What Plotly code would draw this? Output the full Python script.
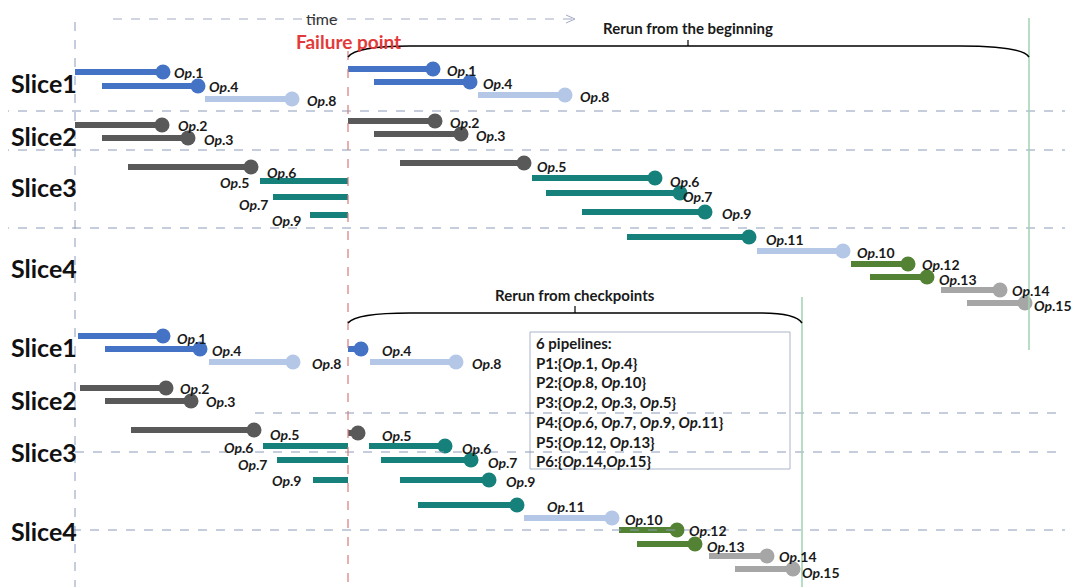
import plotly.graph_objects as go

W, H = 1080, 587
FONT = "Lato"

BLUE = "#4472C4"
LIGHT = "#B4C7E7"
DARK = "#595959"
TEAL = "#16807A"
GREEN = "#548235"
GREY = "#A6A6A6"

# ------------------------------------------------------------
#   datos: operaciones (inicio, fin, fila)
# ------------------------------------------------------------
# panel superior, antes del fallo
top_pre_op = ["Op.1", "Op.4", "Op.8", "Op.2", "Op.3", "Op.5", "Op.6", "Op.7", "Op.9"]
top_pre_start = [75, 102, 205, 75, 102, 128, 260, 273, 310]
top_pre_end = [163, 198, 292, 162, 188, 251, 348, 348, 348]
top_pre_y = [72, 86, 99, 125, 138, 167, 181, 197, 215]
top_pre_color = [BLUE, BLUE, LIGHT, DARK, DARK, DARK, TEAL, TEAL, TEAL]
top_pre_dot = [1, 1, 1, 1, 1, 1, 0, 0, 0]
top_pre_lbl_x = [172, 207, 305, 176, 202, 218, 265, 237, 270]
top_pre_lbl_y = [72, 86, 100, 125, 139, 182, 172, 204, 220]

# panel superior, re-ejecución desde el principio
top_re_op = ["Op.1", "Op.4", "Op.8", "Op.2", "Op.3", "Op.5", "Op.6", "Op.7", "Op.9",
             "Op.11", "Op.10", "Op.12", "Op.13", "Op.14", "Op.15"]
top_re_start = [348, 374, 478, 348, 374, 400, 532, 546, 582, 627, 757, 851, 870, 941, 967]
top_re_end = [433, 470, 565, 435, 461, 524, 655, 680, 705, 749, 843, 908, 927, 1000, 1025]
top_re_y = [69, 82, 95, 121, 134, 163, 178, 193, 212, 237, 251, 264, 277, 290, 303]
top_re_color = [BLUE, BLUE, LIGHT, DARK, DARK, DARK, TEAL, TEAL, TEAL, TEAL, LIGHT,
                GREEN, GREEN, GREY, GREY]
top_re_lbl_x = [445, 481, 578, 448, 474, 535, 668, 681, 720, 764, 855, 920, 937, 1010, 1032]
top_re_lbl_y = [70, 83, 96, 122, 135, 166, 181, 196, 213, 239, 252, 264, 279, 290, 305]

# panel inferior, antes del fallo
bot_pre_op = ["Op.1", "Op.4", "Op.8", "Op.2", "Op.3", "Op.5", "Op.6", "Op.7", "Op.9"]
bot_pre_start = [78, 105, 209, 80, 105, 131, 263, 277, 313]
bot_pre_end = [163, 200, 293, 166, 191, 254, 348, 348, 348]
bot_pre_y = [336, 349, 362, 388, 401, 430, 446, 460, 480]
bot_pre_color = [BLUE, BLUE, LIGHT, DARK, DARK, DARK, TEAL, TEAL, TEAL]
bot_pre_dot = [1, 1, 1, 1, 1, 1, 0, 0, 0]
bot_pre_lbl_x = [175, 210, 310, 178, 204, 268, 222, 236, 270]
bot_pre_lbl_y = [338, 350, 363, 388, 401, 434, 447, 464, 480]

# panel inferior, re-ejecución desde checkpoints
bot_re_op = ["Op.4", "Op.8", "Op.5", "Op.6", "Op.7", "Op.9", "Op.11", "Op.10",
             "Op.12", "Op.13", "Op.14", "Op.15"]
bot_re_start = [348, 370, 348, 369, 381, 400, 418, 524, 619, 637, 709, 735]
bot_re_end = [361, 456, 358, 445, 471, 489, 517, 612, 677, 695, 767, 793]
bot_re_y = [349, 362, 433, 446, 460, 480, 505, 518, 530, 544, 556, 569]
bot_re_color = [BLUE, LIGHT, DARK, TEAL, TEAL, TEAL, TEAL, LIGHT, GREEN, GREEN, GREY, GREY]
bot_re_lbl_x = [380, 470, 380, 460, 486, 504, 545, 623, 687, 705, 777, 800]
bot_re_lbl_y = [350, 363, 435, 448, 462, 481, 506, 519, 530, 546, 556, 572]

slice_names = ["Slice1", "Slice2", "Slice3", "Slice4", "Slice1", "Slice2", "Slice3", "Slice4"]
slice_y = [83, 136, 187, 268, 347, 400, 452, 531]

pipelines = [
    "6 pipelines:",
    "P1:{<i>Op</i>.1, <i>Op</i>.4}",
    "P2:{<i>Op</i>.8, <i>Op</i>.10}",
    "P3:{<i>Op</i>.2, <i>Op</i>.3, <i>Op</i>.5}",
    "P4:{<i>Op</i>.6, <i>Op</i>.7, <i>Op</i>.9, <i>Op</i>.11}",
    "P5:{<i>Op</i>.12, <i>Op</i>.13}",
    "P6:{<i>Op</i>.14,<i>Op</i>.15}",
]

fig = go.Figure()


def add_ops(ops, start, end, ys, colors, dots, lx, ly):
    for i, op in enumerate(ops):
        fig.add_trace(go.Scatter(
            x=[start[i], end[i]], y=[ys[i], ys[i]], mode="lines",
            line=dict(color=colors[i], width=6), hoverinfo="skip", showlegend=False))
        if dots[i]:
            fig.add_trace(go.Scatter(
                x=[end[i]], y=[ys[i]], mode="markers",
                marker=dict(color=colors[i], size=15), hoverinfo="skip", showlegend=False))
        num = op.split(".")[1]
        fig.add_annotation(x=lx[i], y=ly[i], text=f"<b><i>Op</i>.{num}</b>", showarrow=False,
                           xanchor="left", yanchor="middle",
                           font=dict(family=FONT, size=14, color="#1a1a1a"))


# ---- líneas guía ----
shapes = []
guide = "#8C9AB8"
for y, x0 in [(111, 0), (150, 0), (228, 0), (413, 255), (452, 75), (530, 72)]:
    shapes.append(dict(type="line", x0=x0, x1=1065, y0=y, y1=y,
                       line=dict(color=guide, width=1, dash="dash")))
shapes.append(dict(type="line", x0=75, x1=75, y0=22, y1=587, line=dict(color=guide, width=1, dash="dash")))
shapes.append(dict(type="line", x0=348, x1=348, y0=51, y1=587, line=dict(color="#D97B7B", width=1.2, dash="dash")))
shapes.append(dict(type="line", x0=1029, x1=1029, y0=18, y1=350, line=dict(color="#9FD3B2", width=1.5)))
shapes.append(dict(type="line", x0=802, x1=802, y0=297, y1=587, line=dict(color="#9FD3B2", width=1.5)))
# flecha del tiempo
shapes.append(dict(type="line", x0=113, x1=573, y0=19, y1=19, line=dict(color="#A3AAC4", width=1, dash="dash")))
shapes.append(dict(type="path", path="M 566,15 L 575,19 L 566,23", line=dict(color="#A3AAC4", width=1)))
# llaves
shapes.append(dict(type="path", path="M 348,57 Q 356,46 410,46 L 960,46 Q 1022,46 1029,57",
                   line=dict(color="black", width=1.5)))
shapes.append(dict(type="line", x0=688, x1=688, y0=46, y1=40, line=dict(color="black", width=1.2)))
shapes.append(dict(type="path", path="M 348,323 Q 356,313 410,313 L 760,313 Q 796,313 802,323",
                   line=dict(color="black", width=1.5)))
shapes.append(dict(type="line", x0=575, x1=575, y0=313, y1=306, line=dict(color="black", width=1.2)))
# recuadro de pipelines
shapes.append(dict(type="rect", x0=530, x1=790, y0=332, y1=469,
                   line=dict(color="#A9B4C8", width=1), fillcolor="white", layer="below"))

add_ops(top_pre_op, top_pre_start, top_pre_end, top_pre_y, top_pre_color, top_pre_dot,
        top_pre_lbl_x, top_pre_lbl_y)
add_ops(top_re_op, top_re_start, top_re_end, top_re_y, top_re_color, [1] * len(top_re_op),
        top_re_lbl_x, top_re_lbl_y)
add_ops(bot_pre_op, bot_pre_start, bot_pre_end, bot_pre_y, bot_pre_color, bot_pre_dot,
        bot_pre_lbl_x, bot_pre_lbl_y)
add_ops(bot_re_op, bot_re_start, bot_re_end, bot_re_y, bot_re_color, [1] * len(bot_re_op),
        bot_re_lbl_x, bot_re_lbl_y)

for name, y in zip(slice_names, slice_y):
    fig.add_annotation(x=9, y=y, text=f"<b>{name}</b>", showarrow=False, xanchor="left",
                       yanchor="middle", font=dict(family=FONT, size=25, color="#111111"))

for i, line in enumerate(pipelines):
    fig.add_annotation(x=534, y=343 + i * 19.7, text=f"<b>{line}</b>", showarrow=False,
                       xanchor="left", yanchor="middle", font=dict(family=FONT, size=15, color="#1a1a1a"))

fig.add_annotation(x=321, y=8, text="time", showarrow=False, xanchor="center", yanchor="top",
                   borderpad=0, font=dict(family=FONT, size=16, color="#333333"))
fig.add_annotation(x=348, y=41, text="<b>Failure point</b>", showarrow=False, xanchor="center",
                   yanchor="middle", borderpad=0, font=dict(family=FONT, size=19, color="#E23A3A"))
fig.add_annotation(x=688, y=28, text="<b>Rerun from the beginning</b>", showarrow=False,
                   xanchor="center", yanchor="middle", font=dict(family=FONT, size=15, color="#1a1a1a"))
fig.add_annotation(x=575, y=295, text="<b>Rerun from checkpoints</b>", showarrow=False,
                   xanchor="center", yanchor="middle", font=dict(family=FONT, size=15, color="#1a1a1a"))

# la página tiene 8px de margen: se compensa desplazando los rangos
OFF = 8
fig.update_layout(
    width=W - OFF, height=H - OFF, margin=dict(l=0, r=0, t=0, b=0),
    paper_bgcolor="white", plot_bgcolor="white", shapes=shapes, showlegend=False,
    xaxis=dict(range=[OFF, W], visible=False, fixedrange=True),
    yaxis=dict(range=[H, OFF], visible=False, fixedrange=True),
)
fig.write_html("out.html")
